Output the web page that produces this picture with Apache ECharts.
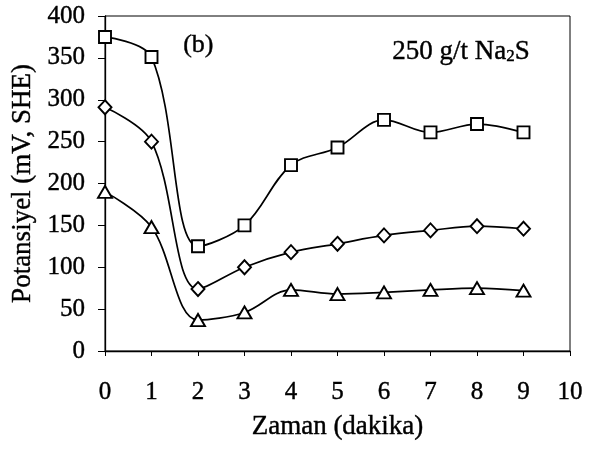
<!DOCTYPE html>
<html><head><meta charset="utf-8">
<script src="https://cdn.jsdelivr.net/npm/echarts@6/dist/echarts.min.js"></script>
<style>html,body{margin:0;padding:0;background:#fff}#c{width:595px;height:449px}</style>
</head><body><div id="c"></div>
<script>
var xValues = [0,1,2,3,4,5,6,7,8,9];
var squareSeries = [375,351,125,150,222,243,276,261,271,261];
var diamondSeries = [291,250,74,100,118,128,138,144,149,146];
var triangleSeries = [190,148,37,46,73,68,70,73,75,72];
var yTicks = [0,50,100,150,200,250,300,350,400];
var xTicks = [0,1,2,3,4,5,6,7,8,9,10];

function pairs(v){ return xValues.map(function(x,i){ return [x, v[i]]; }); }
var font = 'Liberation Serif';
var thick = {textBorderColor:'#000', textBorderWidth:0.4};
function ts(size){ return Object.assign({fontFamily:font, fontSize:size, color:'#000'}, thick); }
function gs(size){ return {fontFamily:font, fontSize:size, fill:'#000', stroke:'#000', lineWidth:0.4}; }
function mk(name, data, symbol, size){
  return {type:'line', name:name, data:pairs(data), smooth:0.35, symbol:symbol, symbolSize:size,
    showAllSymbol:true,
    lineStyle:{color:'#000', width:1.7}, itemStyle:{color:'#fff', borderColor:'#000', borderWidth:1.9}, z:3};
}
var chart = echarts.init(document.getElementById('c'));
chart.setOption({
  animation:false,
  backgroundColor:'#fff',
  grid:{left:105, right:25, top:16, bottom:98, show:true, borderColor:'#000', borderWidth:1, backgroundColor:'transparent'},
  xAxis:{type:'value', min:0, max:10, interval:1, name:'Zaman (dakika)', nameLocation:'middle', nameGap:62,
    nameTextStyle:ts(27),
    axisLine:{lineStyle:{color:'#000', width:1.3}}, axisTick:{show:true, length:5, lineStyle:{color:'#000'}},
    axisLabel:Object.assign(ts(25), {margin:29}), splitLine:{show:false}},
  yAxis:{type:'value', min:0, max:400, interval:50, name:'Potansiyel (mV, SHE)', nameLocation:'middle', nameGap:58,
    nameRotate:90, nameTextStyle:ts(27),
    axisLine:{show:true, lineStyle:{color:'#000', width:1.3}}, axisTick:{show:true, length:7, lineStyle:{color:'#000'}},
    axisLabel:Object.assign(ts(25), {margin:20}), splitLine:{show:false}},
  graphic:[
    {type:'text', left:183, top:32, style:{text:'(b)', font:'26px "Liberation Serif"', fill:'#000', stroke:'#000', lineWidth:0.4}},
    {type:'text', left:392, top:38, style:{text:'{a|250 g/t Na}{s|2}{a|S}', rich:{a:gs(27), s:Object.assign(gs(17), {padding:[9,0,0,0]})}}}
  ],
  series:[
    mk('sq', squareSeries, 'rect', 12),
    mk('di', diamondSeries, 'diamond', [13,14]),
    mk('tr', triangleSeries, 'triangle', [14,12])
  ]
});
</script></body></html>
